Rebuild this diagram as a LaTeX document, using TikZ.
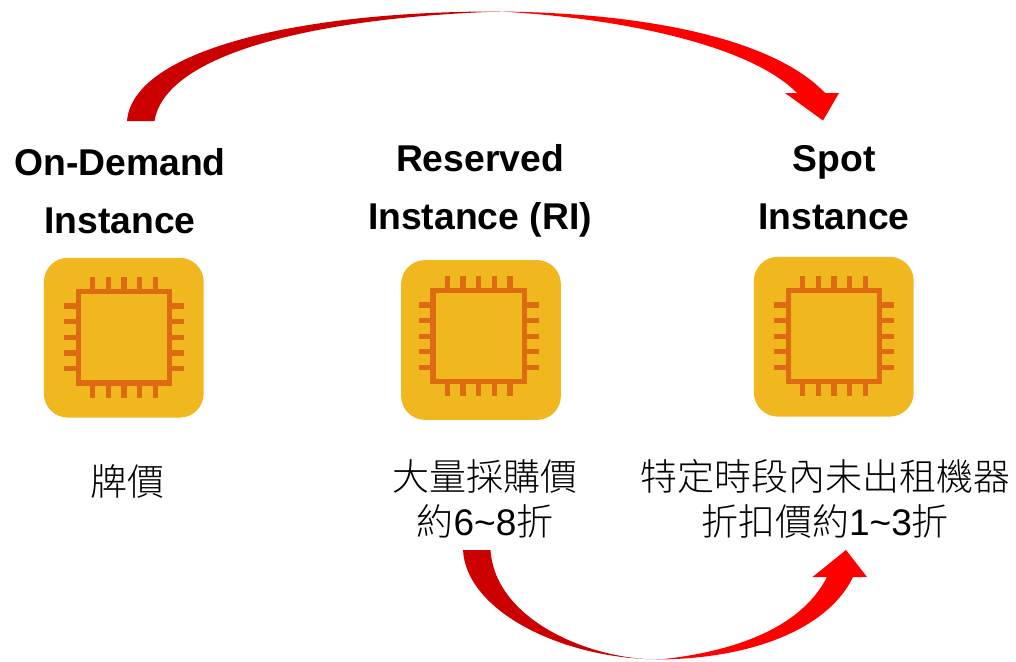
\documentclass[tikz,border=0pt]{standalone}
\usepackage{fontspec}
\setmainfont{Liberation Sans}
\newfontfamily\cjk[UprightFont={* Light}]{Noto Sans CJK TC}
\definecolor{chipbg}{HTML}{F0B71E}
\definecolor{chipline}{HTML}{DC6B12}
\definecolor{darkred}{HTML}{CC0000}
\definecolor{brightred}{HTML}{FF0000}
\tikzset{
  x=1pt,y=-1pt,
  chipbox/.style={fill=chipbg,draw=none,rounded corners=24pt,minimum width=159.8pt,minimum height=159.8pt,inner sep=0pt,outer sep=0pt},
  title/.style={font=\fontsize{37.3}{58}\selectfont\bfseries,align=center,inner sep=0pt},
  note/.style={font=\fontsize{37}{45}\selectfont,align=center,inner sep=0pt},
  pin/.style={draw=chipline,line width=5.3pt},
  chip/.pic={
    \draw[pin] (-45.6,-45.6) rectangle (45.6,45.6);
    \foreach \k in {-31.2,-15.6,0,15.6,31.2}{
      \draw[pin] (\k,-48) -- (\k,-60.2);
      \draw[pin] (\k,48) -- (\k,60.2);
      \draw[pin] (-48,\k) -- (-60.2,\k);
      \draw[pin] (48,\k) -- (60.2,\k);
    }
  }
}
\begin{document}
\begin{tikzpicture}
\useasboundingbox (0,0) rectangle (1016,661);
\node[chipbox] (b1) at (123.8,337.7) {};
\node[chipbox] (b2) at (481,340) {};
\node[chipbox] (b3) at (833.8,336.7) {};
\pic (c1) at (124,337.3) {chip};
\pic (c2) at (478.7,336.2) {chip};
\pic (c3) at (834,336.2) {chip};
\node[title] (t1) at (120,191) {On-Demand\\Instance};
\node[title] (t2) at (480,191) {Reserved\\Instance (RI)};
\node[title] (t3) at (834,187.3) {Spot\\Instance};
\node[note] (n1) at (127,481) {{\cjk 牌價}};
\node[note] (n2) at (485,499) {{\cjk 大量採購價}\\{\cjk 約}6\string~8{\cjk 折}};
\node[note] (n3) at (825,499) {{\cjk 特定時段內未出租機器}\\{\cjk 折扣價約}1\string~3{\cjk 折}};
\coordinate (topmid) at (500,11.5);
\coordinate (toptip) at (823,120.5);
\coordinate (botmid) at (660,659.5);
\coordinate (bottip) at (846,550);
\fill[darkred] (127,121) .. controls (133,50) and (300,11) .. (topmid) .. controls (310,18) and (165,55) .. (154.5,121) -- cycle;
\fill[brightred] (topmid) .. controls (650,13) and (775,40) .. (825,93) -- (839,93) -- (toptip) -- (785,93) -- (797,93) .. controls (750,45) and (620,18) .. (topmid) -- cycle;
\fill[darkred] (463,550) .. controls (466,610) and (560,659) .. (botmid) .. controls (590,660) and (495,620) .. (490.5,550) -- cycle;
\fill[brightred] (botmid) .. controls (760,658) and (830,625) .. (853,577) -- (867,577) -- (bottip) -- (812.5,577) -- (827,577) .. controls (800,630) and (730,652) .. (botmid) -- cycle;
\end{tikzpicture}
\end{document}
